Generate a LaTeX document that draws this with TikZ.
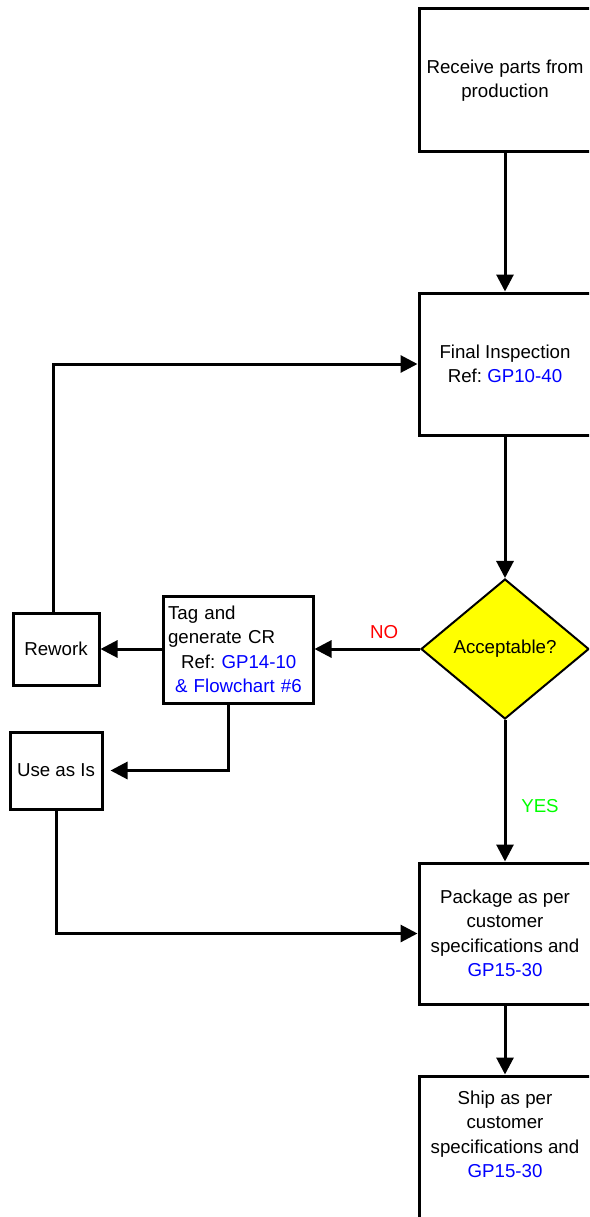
\documentclass[tikz,border=0pt]{standalone}
\usepackage{fontspec}
\setmainfont{Liberation Sans}
\usetikzlibrary{arrows.meta,shapes.geometric}
\definecolor{refblue}{RGB}{0,0,255}
\definecolor{nored}{RGB}{255,0,0}
\definecolor{yesgreen}{RGB}{0,255,0}
\definecolor{decyellow}{RGB}{255,255,0}
\tikzset{
  stepbox/.style={draw, line width=3pt, rectangle, inner sep=0pt, align=center, fill=white},
  bigbox/.style={stepbox, minimum width=172pt, minimum height=143pt},
  decision/.style={diamond, draw, line width=2pt, fill=decyellow, inner sep=0pt,
    minimum width=168pt, minimum height=140pt},
  flow/.style={line width=3pt, -{Triangle[length=17pt,width=17pt]}}
}
\begin{document}
\begin{tikzpicture}[x=1pt,y=-1pt,font=\fontsize{18.7}{24.5}\selectfont\frenchspacing]
\fill[white] (0,0) rectangle (589,1217);
\useasboundingbox (0,0) rectangle (589,1217);
\clip (0,0) rectangle (589,1217);

% main column
\node[bigbox] (recv) at (505,80.5) {Receive parts from\\production};
\node[bigbox, minimum height=142pt] (final) at (505,364)
  {Final Inspection\\Ref: \textcolor{refblue}{GP10-40}};
\node[decision] (acc) at (505,649) {Acceptable?};
\node[bigbox, minimum height=141pt] (pkg) at (505,933.5)
  {Package as per\\customer\\specifications and\\\textcolor{refblue}{GP15-30}};
\node[bigbox] (ship) at (505,1147.5) {};
\node[align=center] (shiptext) at (505,1134.5)
  {Ship as per\\customer\\specifications and\\\textcolor{refblue}{GP15-30}};

% nonconforming branch
\node[stepbox, minimum width=150pt, minimum height=107pt, text width=140pt, align=left]
  (tag) at (238,649.5)
  {Tag and\\generate CR\\\hspace*{13pt}Ref: \textcolor{refblue}{GP14-10}\\\hspace*{7pt}\textcolor{refblue}{\& Flowchart \#6}};
\node[stepbox, minimum width=86pt, minimum height=72pt] (rework) at (56,649) {Rework};
\node[stepbox, minimum width=92pt, minimum height=77pt] (useis) at (56,770.5) {Use as Is};

% connectors
\draw[flow] (recv) -- (final);
\draw[flow] (final) -- (acc);
\draw[flow] (acc.west) -- node[pos=0.34, yshift=17pt, text=nored] {NO} (acc.west -| tag.east);
\draw[flow] (rework.east -| tag.west) -- (rework.east);
\draw[flow] ([xshift=-3pt]rework.north) |- (final.west);
\draw[flow] ([xshift=-10pt]tag.south) |- ([xshift=7pt]useis.east);
\draw[flow] (useis.south) |- (pkg.west);
\draw[flow] (acc.south) -- node[pos=0.61, xshift=35pt, text=yesgreen] {YES} (pkg.north);
\draw[flow] (pkg) -- (ship);
\end{tikzpicture}
\end{document}
